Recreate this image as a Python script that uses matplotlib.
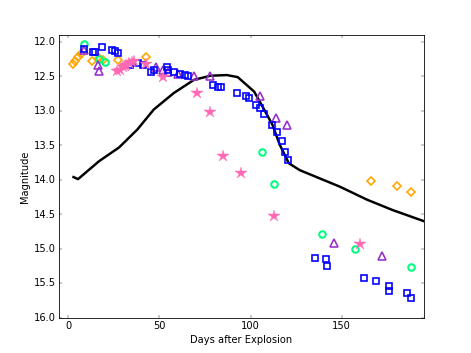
import matplotlib
matplotlib.use("Agg")
import matplotlib.pyplot as plt

# model light curve
model_days = [3, 5.5, 17, 28, 38, 47, 58, 69, 78, 87, 93, 102, 106, 112, 116,
              121, 127, 138, 149, 164, 178, 195]
model_mag = [13.96, 13.99, 13.73, 13.53, 13.27, 12.98, 12.74, 12.55, 12.49,
             12.48, 12.51, 12.72, 12.91, 13.20, 13.49, 13.76, 13.86, 13.98,
             14.10, 14.29, 14.44, 14.60]

# observed bands
blue_days = [9, 13.5, 15, 18.5, 24, 26, 27.5, 34, 38.5, 41, 45.5, 47, 54, 55,
             58, 61.5, 64, 66, 79.5, 82, 84, 92.5, 97.5, 99, 103, 105, 107.5,
             111.5, 114.5, 117.5, 119, 120.5, 135.5, 141.5, 142, 162, 169,
             176, 176, 185.5, 188]
blue_mag = [12.10, 12.14, 12.14, 12.08, 12.11, 12.13, 12.16, 12.33, 12.31,
            12.33, 12.43, 12.40, 12.36, 12.40, 12.43, 12.46, 12.48, 12.49,
            12.63, 12.65, 12.66, 12.74, 12.78, 12.82, 12.91, 12.96, 13.04,
            13.20, 13.31, 13.44, 13.59, 13.71, 15.14, 15.15, 15.25, 15.43,
            15.47, 15.54, 15.62, 15.64, 15.71]

orange_days = [2.5, 4, 5.5, 7, 13, 17, 19, 27.5, 43, 166, 180, 188]
orange_mag = [12.32, 12.27, 12.22, 12.17, 12.27, 12.23, 12.26, 12.26, 12.22,
              14.01, 14.09, 14.18]

green_days = [8.5, 17, 20, 106.5, 113, 139, 157, 188]
green_mag = [12.03, 12.24, 12.29, 13.60, 14.06, 14.78, 15.00, 15.27]

purple_days = [9, 16.5, 17, 48, 52, 55, 60, 69, 78, 105, 114, 120, 146, 172]
purple_mag = [12.11, 12.33, 12.42, 12.36, 12.40, 12.44, 12.47, 12.49, 12.50,
              12.79, 13.10, 13.20, 14.91, 15.11]

pink_days = [27, 28.5, 30, 31, 32, 33.5, 35, 36, 43, 52, 70.5, 78, 85, 95,
             113, 160]
pink_mag = [12.42, 12.40, 12.37, 12.35, 12.33, 12.31, 12.29, 12.28, 12.32,
            12.51, 12.74, 13.01, 13.65, 13.90, 14.52, 14.93]

plt.style.use("classic")
fig = plt.figure(figsize=(8, 6), dpi=58.875, facecolor="white")
ax = fig.add_axes([0.125, 0.1, 0.775, 0.8])

ax.plot(model_days, model_mag, color="black", lw=3, zorder=1)

ax.plot(orange_days, orange_mag, "D", mfc="none", mec="orange", mew=2, ms=7)
ax.plot(green_days, green_mag, "o", mfc="none", mec="springgreen", mew=2.5, ms=8)
ax.plot(purple_days, purple_mag, "^", mfc="none", mec="darkorchid", mew=2, ms=10)
ax.plot(blue_days, blue_mag, "s", mfc="none", mec="blue", mew=2, ms=8)
ax.plot(pink_days, pink_mag, "*", color="hotpink", mec="hotpink", ms=15)

ax.set_xlim(-5, 195)
ax.set_ylim(16.0, 11.9)
ax.set_xticks([0, 50, 100, 150])
ax.set_yticks([12.0, 12.5, 13.0, 13.5, 14.0, 14.5, 15.0, 15.5, 16.0])
ax.set_xlabel("Days after Explosion")
ax.set_ylabel("Magnitude")

plt.savefig("out.png", dpi=58.875, facecolor="white")
plt.close()
